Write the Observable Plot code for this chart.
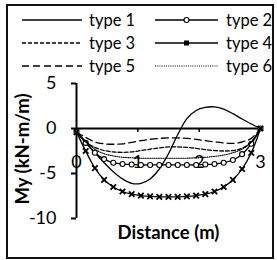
<!DOCTYPE html>
<html>
<head>
<meta charset="utf-8">
<script src="https://cdn.jsdelivr.net/npm/d3@7"></script>
<script src="https://cdn.jsdelivr.net/npm/@observablehq/plot@0.6"></script>
<style>
  html, body { margin: 0; padding: 0; background: #fff; }
  #wrap { position: relative; width: 277px; height: 260px; overflow: hidden; font-family: Lato, "DejaVu Sans", sans-serif; }
  #border { position: absolute; left: 6px; top: 4px; width: 264px; height: 251px; border: 2px solid #111; box-sizing: content-box; }
  #legend { position: absolute; left: 0; top: 0; width: 277px; height: 80px; }
  .item { position: absolute; height: 22px; font-size: 16.5px; line-height: 22px; color: #000; white-space: nowrap; }
  .item svg { position: absolute; left: 0; top: 3px; }
  .item span { position: absolute; top: 0; }
  #chart { position: absolute; left: 0; top: 0; }
</style>
</head>
<body>
<div id="wrap">
  <div id="chart"></div>
  <div id="legend"></div>
  <div id="border"></div>
</div>
<script>
// ---- data ----
const distance = [0, 0.15, 0.3, 0.45, 0.6, 0.75, 0.9, 1.05, 1.2, 1.35, 1.5, 1.65, 1.8, 1.95, 2.1, 2.25, 2.4, 2.55, 2.7, 2.85, 3.0];
const type1 = [-0.4, -1.5, -2.7, -3.8, -4.8, -5.6, -6.1, -6.1, -5.6, -4.5, -2.8, -0.7, 1.1, 2.0, 2.35, 2.4, 2.15, 1.65, 1.05, 0.5, 0];
const type2 = [-0.4, -1.6, -2.7, -3.4, -3.8, -3.95, -4.0, -4.05, -4.05, -4.05, -4.05, -4.05, -4.05, -4.05, -4.0, -3.95, -3.8, -3.5, -2.85, -1.7, 0];
const type3 = [-0.4, -1.5, -2.1, -2.45, -2.6, -2.65, -2.6, -2.45, -2.3, -2.15, -2.05, -2.05, -2.1, -2.2, -2.35, -2.45, -2.5, -2.45, -2.2, -1.5, 0];
const type4 = [-0.4, -2.5, -4.4, -5.7, -6.5, -7.0, -7.3, -7.45, -7.55, -7.6, -7.6, -7.6, -7.55, -7.45, -7.3, -7.0, -6.5, -5.7, -4.5, -2.7, 0];
const type5 = [-0.4, -1.0, -1.5, -1.7, -1.75, -1.7, -1.55, -1.35, -1.2, -1.1, -1.05, -1.05, -1.1, -1.2, -1.35, -1.5, -1.6, -1.65, -1.5, -1.1, 0];
const type6 = [-0.4, -1.4, -2.3, -2.8, -3.05, -3.2, -3.25, -3.3, -3.3, -3.3, -3.3, -3.3, -3.3, -3.25, -3.2, -3.1, -2.95, -2.7, -2.3, -1.5, 0];
const seriesNames = ["type 1", "type 2", "type 3", "type 4", "type 5", "type 6"];
const xTicks = [1, 2];
const xTickLabels = [0, 1, 2, 3];
const yTicks = [5, 0, -5, -10];
const xTitle = "Distance (m)";
const yTitle = "My (kN-m/m)";

// ---- styles per series ----
const styles = {
  "type 1": {dash: null, width: 1.3, marker: null},
  "type 2": {dash: null, width: 1.3, marker: "circle"},
  "type 3": {dash: "4,2", width: 1.3, marker: null},
  "type 4": {dash: null, width: 1.3, marker: "times"},
  "type 5": {dash: "7,4", width: 1.3, marker: null},
  "type 6": {dash: "1,1.2", width: 1.1, marker: null}
};

const allValues = [type1, type2, type3, type4, type5, type6];
const table = seriesNames.map((name, i) =>
  distance.map((d, j) => ({series: name, x: d, y: allValues[i][j]}))
);

const lineMarks = [];
table.forEach(rows => {
  const s = styles[rows[0].series];
  lineMarks.push(Plot.line(rows, {x: "x", y: "y", stroke: "#000", strokeWidth: s.width, strokeDasharray: s.dash, curve: "catmull-rom"}));
  if (s.marker === "circle") {
    lineMarks.push(Plot.dot(rows, {x: "x", y: "y", r: 2.5, stroke: "#000", strokeWidth: 1.1, fill: "#fff"}));
  } else if (s.marker === "times") {
    lineMarks.push(Plot.dot(rows, {x: "x", y: "y", r: 2.6, symbol: "times", stroke: "#000", strokeWidth: 1.8}));
  }
});

const chart = Plot.plot({
  width: 277,
  height: 260,
  marginLeft: 76,
  marginRight: 17,
  marginTop: 83,
  marginBottom: 42,
  style: {fontFamily: "Lato, sans-serif", fontSize: "18px", background: "transparent", color: "#000"},
  x: {domain: [0, 3], axis: null},
  y: {domain: [-10, 5], axis: null},
  marks: [
    Plot.ruleX([0], {stroke: "#000", strokeWidth: 2}),
    Plot.ruleY([0], {stroke: "#000", strokeWidth: 2}),
    Plot.ruleX(xTicks, {x: d => d, y1: 0, y2: -0.45, stroke: "#000", strokeWidth: 1.5}),
    Plot.axisY(yTicks, {anchor: "left", tickSize: 5, tickPadding: 15, fontSize: 18, strokeWidth: 2, label: null, tickFormat: d => d < 0 ? "-" + Math.abs(d) : String(d)}),
    Plot.text(xTickLabels, {x: d => d, y: 0, dy: 34, text: d => String(d), fontSize: 18, fill: "#000"}),
    ...lineMarks,
    Plot.text([yTitle], {frameAnchor: "left", textAnchor: "middle", dx: -53, dy: -2, rotate: -90, text: d => d, fontWeight: "bold", fontSize: 18.5}),
    Plot.text([xTitle], {frameAnchor: "bottom", dy: 20, text: d => d, fontWeight: "bold", fontSize: 18.5})
  ]
});
document.getElementById("chart").appendChild(chart);

// ---- legend ----
const legend = document.getElementById("legend");
const cols = [{sw: 22, w: 60, tx: 89}, {sw: 155, w: 63, tx: 226}];
const rowsY = [20, 43, 66];
seriesNames.forEach((name, i) => {
  const s = styles[name];
  const c = cols[i % 2];
  const item = document.createElement("div");
  item.className = "item";
  item.style.left = c.sw + "px";
  item.style.top = (rowsY[Math.floor(i / 2)] - 11) + "px";
  const w = c.w;
  const svg = d3.create("svg").attr("width", w).attr("height", 16);
  svg.append("line").attr("x1", 0).attr("x2", w).attr("y1", 8).attr("y2", 8)
    .attr("stroke", "#000").attr("stroke-width", s.width).attr("stroke-dasharray", s.dash);
  if (s.marker === "circle") {
    svg.append("circle").attr("cx", w / 2).attr("cy", 8).attr("r", 2.5).attr("fill", "#fff").attr("stroke", "#000").attr("stroke-width", 1.1);
  } else if (s.marker === "times") {
    svg.append("rect").attr("x", w / 2 - 2.5).attr("y", 5.5).attr("width", 5).attr("height", 5).attr("fill", "#000");
  }
  item.appendChild(svg.node());
  const t = document.createElement("span");
  t.style.left = (c.tx - c.sw) + "px";
  t.textContent = name;
  item.appendChild(t);
  legend.appendChild(item);
});
</script>
</body>
</html>
